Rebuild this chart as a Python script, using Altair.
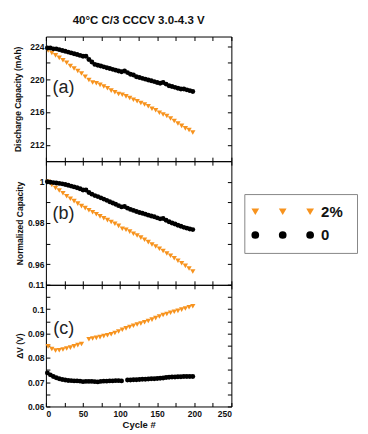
import altair as alt
import pandas as pd

chart_title = "40°C C/3 CCCV 3.0-4.3 V"
series_labels = ["2%", "0"]
orange = "#f7931e"
black = "#000000"
font = "Liberation Sans"

# orange (2%) series, one point every 5 cycles
orange_cycles = [3, 8, 13, 18, 23, 28, 33, 38, 43, 48, 53, 58, 63, 68, 73, 78, 83, 88, 93, 98,
                 103, 108, 113, 118, 123, 128, 133, 138, 143, 148, 153, 158, 163, 168, 173, 178, 183, 188, 193, 198]
orange_cap = [223.5, 223.2, 222.9, 222.6, 222.3, 222.0, 221.6, 221.3, 221.0, 220.7,
              220.3, 219.9, 219.6, 219.5, 219.3, 219.1, 218.9, 218.6, 218.4, 218.2,
              218.1, 217.9, 217.7, 217.5, 217.3, 217.1, 216.9, 216.7, 216.4, 216.2,
              215.9, 215.7, 215.5, 215.2, 214.9, 214.6, 214.3, 214.0, 213.8, 213.5]
orange_norm = [1.000, 0.9985, 0.997, 0.9958, 0.9944, 0.993, 0.9918, 0.9906, 0.9894, 0.9882,
               0.9872, 0.9862, 0.9852, 0.9842, 0.9832, 0.9823, 0.9814, 0.9805, 0.9796, 0.9786,
               0.9772, 0.9767, 0.9758, 0.9748, 0.9739, 0.9729, 0.9719, 0.9707, 0.9696, 0.9686,
               0.9675, 0.9664, 0.9652, 0.9641, 0.9629, 0.9617, 0.9605, 0.9592, 0.9579, 0.9565]
orange_dv = [0.0847, 0.0836, 0.0830, 0.0831, 0.0834, 0.0838, 0.0842, 0.0847, 0.0852, 0.0857,
             None, 0.0876, 0.0879, 0.0882, 0.0885, 0.0889, 0.0893, 0.0897, 0.0902, 0.0908,
             0.0915, 0.0921, 0.0927, 0.0932, 0.0937, 0.0941, 0.0946, 0.0951, 0.0957, 0.0963,
             0.0970, 0.0976, 0.0980, 0.0985, 0.0989, 0.0993, 0.0998, 0.1003, 0.1008, 0.1012]

# black (0) series, one point every 4 cycles
black_cycles = [2, 6, 10, 14, 18, 22, 26, 30, 34, 38, 42, 46, 50, 54, 58, 62, 66, 70, 74, 78,
                82, 86, 90, 94, 98, 102, 106, 110, 114, 118, 122, 126, 130, 134, 138, 142, 146, 150, 154, 158,
                162, 166, 170, 174, 178, 182, 186, 190, 194, 198]
black_cap = [223.8, 223.8, 223.7, 223.7, 223.6, 223.5, 223.4, 223.3, 223.2, 223.1,
             223.0, 222.9, 222.8, 222.8, 222.4, 222.1, 221.8, 221.7, 221.6, 221.5,
             221.4, 221.3, 221.2, 221.1, 221.0, 220.9, 221.0, 220.8, 220.6, 220.5,
             220.3, 220.2, 220.1, 220.0, 219.9, 219.8, 219.7, 219.6, 219.5, 219.6,
             219.4, 219.2, 219.1, 219.0, 218.9, 218.8, 218.8, 218.7, 218.6, 218.5]
black_norm = [1.0000, 0.9998, 0.9996, 0.9994, 0.9992, 0.9990, 0.9987, 0.9983, 0.9979, 0.9975,
              0.9971, 0.9966, 0.9960, 0.9960, 0.9948, 0.9940, 0.9933, 0.9928, 0.9922, 0.9916,
              0.9910, 0.9903, 0.9897, 0.9891, 0.9884, 0.9878, 0.9880, 0.9872, 0.9866, 0.9861,
              0.9856, 0.9851, 0.9847, 0.9843, 0.9838, 0.9834, 0.9830, 0.9825, 0.9820, 0.9822,
              0.9813, 0.9806, 0.9800, 0.9795, 0.9789, 0.9784, 0.9779, 0.9775, 0.9771, 0.9768]
black_dv = [0.0738, 0.0730, 0.0723, 0.0718, 0.0714, 0.0711, 0.0709, 0.0707, 0.0706, 0.0705,
            0.0705, 0.0704, 0.0702, 0.0703, 0.0703, 0.0703, 0.0702, 0.0701, 0.0703, 0.0704,
            0.0704, 0.0705, 0.0705, 0.0706, 0.0706, 0.0705, None, 0.0709, 0.0709, 0.0710,
            0.0710, 0.0711, 0.0712, 0.0712, 0.0713, 0.0714, 0.0714, 0.0715, 0.0716, 0.0717,
            0.0719, 0.0720, 0.0721, 0.0721, 0.0722, 0.0722, 0.0723, 0.0723, 0.0723, 0.0723]

x_ticks = [0, 25, 50, 75, 100, 125, 150, 175, 200, 225, 250]
panel_specs = [
    dict(title="Discharge Capacity (mAh)", domain=[210, 225.2],
         ticks=[212, 214, 216, 218, 220, 222, 224],
         label_expr="(datum.value - 212) % 4 === 0 ? format(datum.value, '~g') : ''",
         tag="(a)", tag_x=9, tag_y=218.9, height=125, title_pad=7,
         black=black_cap, orange=orange_cap),
    dict(title="Normalized Capacity", domain=[0.95, 1.01],
         ticks=[0.95, 0.96, 0.97, 0.98, 0.99, 1.0],
         label_expr="round(datum.value * 100) % 2 === 0 ? format(datum.value, '.2~f') : ''",
         tag="(b)", tag_x=9, tag_y=0.9844, height=124, title_pad=3,
         black=black_norm, orange=orange_norm),
    dict(title="ΔV (V)", domain=[0.06, 0.11],
         ticks=[0.06, 0.065, 0.07, 0.075, 0.08, 0.085, 0.09, 0.095, 0.1, 0.105, 0.11],
         label_expr="round(datum.value * 1000) % 10 === 0 ? format(datum.value, '.2~f') : ''",
         tag="(c)", tag_x=10, tag_y=0.0918, height=122, title_pad=3,
         black=black_dv, orange=orange_dv),
]

PW = 186
TICK = 4


def make_panel(spec, show_x, title=None):
    dfb = pd.DataFrame({"cycle": black_cycles, "value": spec["black"]}).dropna()
    dfo = pd.DataFrame({"cycle": orange_cycles, "value": spec["orange"]}).dropna()
    xscale = alt.Scale(domain=[0, 250], nice=False, zero=False)
    yscale = alt.Scale(domain=spec["domain"], nice=False, zero=False)
    common = dict(grid=False, domain=False, ticks=True, tickSize=TICK, offset=-TICK,
                  tickColor="#000", tickWidth=1, labelFont=font, labelFontSize=8.5,
                  labelFontWeight="bold", labelColor="#111", titleFont=font,
                  titleFontWeight="bold", titleColor="#111")
    if show_x:
        xaxis_b = alt.Axis(orient="bottom", values=x_ticks, labelPadding=3,
                           labelExpr="datum.value % 50 === 0 ? datum.label : ''",
                           title="Cycle #", titleFontSize=9.5, titlePadding=2, **common)
    else:
        xaxis_b = alt.Axis(orient="bottom", values=x_ticks, labels=False, title=None, **common)
    yaxis_l = alt.Axis(orient="left", values=spec["ticks"], labelExpr=spec["label_expr"],
                       labelPadding=2, title=spec["title"], titleFontSize=8.5,
                       titlePadding=spec["title_pad"], **common)
    xaxis_t = alt.Axis(orient="top", values=x_ticks, labels=False, title=None, **common)
    yaxis_r = alt.Axis(orient="right", values=spec["ticks"], labels=False, title=None, **common)

    black_layer = alt.Chart(dfb).mark_point(filled=True, shape="circle", size=24, color=black, opacity=1).encode(
        x=alt.X("cycle:Q", scale=xscale, axis=xaxis_b),
        y=alt.Y("value:Q", scale=yscale, axis=yaxis_l),
    )
    orange_layer = alt.Chart(dfo).mark_point(filled=True, shape="triangle-down", size=28, color=orange, opacity=1).encode(
        x=alt.X("cycle:Q", scale=xscale, axis=xaxis_t),
        y=alt.Y("value:Q", scale=yscale, axis=yaxis_r),
    )
    tag_df = pd.DataFrame({"cycle": [spec["tag_x"]], "value": [spec["tag_y"]], "t": [spec["tag"]]})
    tag_layer = alt.Chart(tag_df).mark_text(align="left", baseline="middle", font=font, fontSize=18,
                                            color="#222").encode(
        x=alt.X("cycle:Q", scale=xscale, axis=None),
        y=alt.Y("value:Q", scale=yscale, axis=None),
        text="t:N",
    )
    props = dict(width=PW, height=spec["height"],
                 view=alt.ViewBackground(stroke="#000", strokeWidth=1))
    if title is not None:
        props["title"] = alt.TitleParams(chart_title, font=font, fontSize=11.5, fontWeight="bold",
                                         color="#111", offset=10, anchor="middle")
    return alt.layer(orange_layer, black_layer, tag_layer).resolve_axis(
        x="independent", y="independent").properties(**props)


panels = [make_panel(panel_specs[0], False, title=True),
          make_panel(panel_specs[1], False),
          make_panel(panel_specs[2], True)]
left = alt.vconcat(*panels, spacing=0, bounds="flush")

# legend: three markers per entry, as in the original
leg_rows = []
for lab, row in [(series_labels[0], 2), (series_labels[1], 1)]:
    for k in [1, 2, 3]:
        leg_rows.append({"k": k, "row": row, "lab": lab})
leg_df = pd.DataFrame(leg_rows)
leg_text_df = pd.DataFrame({"k": [3.4, 3.4], "row": [2, 1], "lab": series_labels})
lx = alt.Scale(domain=[0.6, 4.71], nice=False, zero=False)
ly = alt.Scale(domain=[0.23, 2.76], nice=False, zero=False)
leg_pts = alt.Chart(leg_df).mark_point(filled=True, size=60, opacity=1).encode(
    x=alt.X("k:Q", scale=lx, axis=None),
    y=alt.Y("row:Q", scale=ly, axis=None),
    shape=alt.Shape("lab:N", scale=alt.Scale(domain=series_labels, range=["triangle-down", "circle"]), legend=None),
    color=alt.Color("lab:N", scale=alt.Scale(domain=series_labels, range=[orange, black]), legend=None),
)
leg_txt = alt.Chart(leg_text_df).mark_text(align="left", baseline="middle", font=font, fontSize=15,
                                           fontWeight="bold", color="#111").encode(
    x=alt.X("k:Q", scale=lx, axis=None),
    y=alt.Y("row:Q", scale=ly, axis=None),
    text="lab:N",
)
legend_box = alt.layer(leg_pts, leg_txt).properties(
    width=113, height=59, view=alt.ViewBackground(stroke="#888", strokeWidth=1))

spacer = alt.Chart(pd.DataFrame({"a": [0]})).mark_point(opacity=0).encode(
    x=alt.X("a:Q", axis=None), y=alt.Y("a:Q", axis=None)
).properties(width=113, height=157, view=alt.ViewBackground(stroke=None))

right = alt.vconcat(spacer, legend_box, spacing=0)

chart = alt.hconcat(left, right, spacing=11).properties(
    padding={"left": 5, "top": 5, "right": 2, "bottom": 2},
    background="white",
)

chart.save("out.html", embed_options={"renderer": "svg", "actions": False})
